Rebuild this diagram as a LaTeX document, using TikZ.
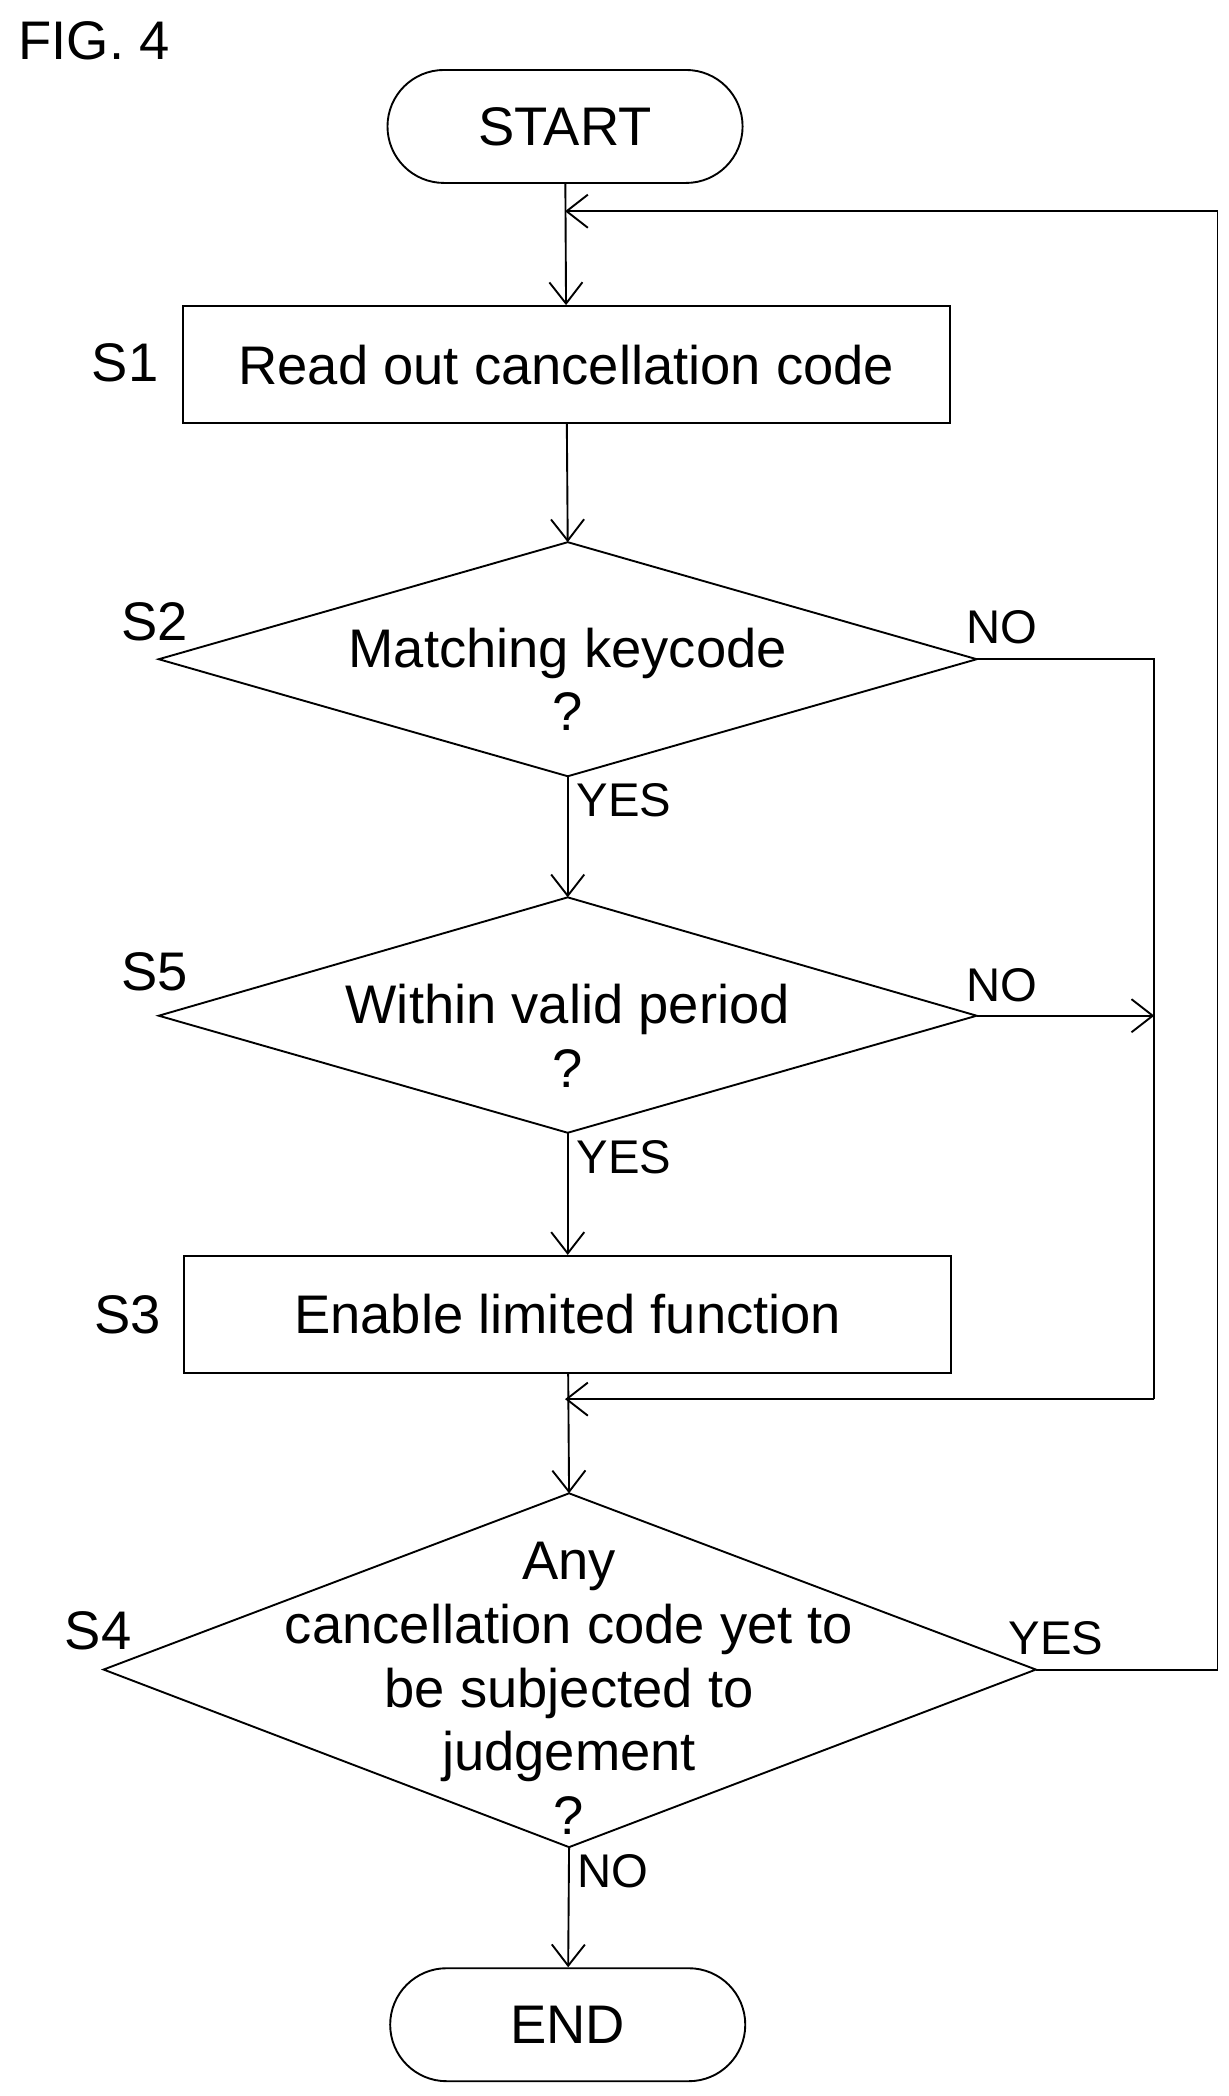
\documentclass[tikz,border=0pt]{standalone}
\usepackage{fontspec}
\setmainfont{Liberation Sans}
\usetikzlibrary{arrows.meta}
\begin{document}
\begin{tikzpicture}[x=0.02cm,y=-0.02cm,
  every node/.style={font=\fontsize{23}{27}\selectfont},
  proc/.style={draw,thick,minimum width=11.4cm,minimum height=1.74cm},
  term/.style={draw,thick,rounded corners=0.84cm,minimum width=5.28cm,minimum height=1.68cm},
  dtext/.style={align=center},
  flow/.style={thick,-{Straight Barb[length=9pt,width=14pt]}},
  lbl/.style={font=\fontsize{20}{24}\selectfont}]
  \useasboundingbox (0,0) rectangle (913,1558);

  \node at (70,30) {FIG. 4};

  %diamond corners
  \coordinate (s2n) at (422,403); \coordinate (s2s) at (422,577);
  \coordinate (s2w) at (118,490); \coordinate (s2e) at (726,490);
  \coordinate (s5n) at (422,667); \coordinate (s5s) at (422,842);
  \coordinate (s5w) at (118,755); \coordinate (s5e) at (726,755);
  \coordinate (s4n) at (423,1110); \coordinate (s4s) at (423,1373);
  \coordinate (s4w) at (77,1241); \coordinate (s4e) at (770,1241);

  %boxes
  \node[term] (start) at (420,94) {START};
  \node[proc] (s1) at (421,271) {Read out cancellation code};
  \draw[thick] (s2n) -- (s2e) -- (s2s) -- (s2w) -- cycle;
  \node[dtext] (s2) at (422,505) {Matching keycode\\?};
  \draw[thick] (s5n) -- (s5e) -- (s5s) -- (s5w) -- cycle;
  \node[dtext] (s5) at (422,770) {Within valid period\\?};
  \node[proc] (s3) at (422,977) {Enable limited function};
  \draw[thick] (s4n) -- (s4e) -- (s4s) -- (s4w) -- cycle;
  \node[dtext] (s4) at (423,1255)
     {Any\\cancellation code yet to\\be subjected to\\judgement\\?};
  \node[term] (end) at (422,1505) {END};

  %step labels
  \node (l1) at (93,270) {S1};
  \node (l2) at (115,462) {S2};
  \node (l5) at (115,722) {S5};
  \node (l3) at (95,977) {S3};
  \node (l4) at (73,1212) {S4};

  %helper points
  \coordinate (j1) at (420,157);
  \coordinate (j2) at (420,1040);
  \coordinate (r1) at (858,490);
  \coordinate (r2) at (858,755);
  \coordinate (r3) at (858,1040);
  \coordinate (q1) at (905,1241);
  \coordinate (q2) at (905,157);

  %connectors
  \draw[flow] (start) -- (s1);
  \draw[flow] (s1) -- (s2n);
  \draw[flow] (s2s) -- node[lbl,pos=0.2,right] {YES} (s5n);
  \draw[flow] (s5s) -- node[lbl,pos=0.2,right] {YES} (s3);
  \draw[flow] (s3) -- (s4n);
  \draw[flow] (s4s) -- node[lbl,pos=0.2,right] {NO} (end);
  \draw[thick] (s2e) -- (r1) -- (r3);
  \draw[flow] (r3) -- (j2);
  \draw[flow] (s5e) -- (r2);
  \draw[thick] (s4e) -- (q1) -- (q2);
  \draw[flow] (q2) -- (j1);
  \node[lbl] at (745,466) {NO};
  \node[lbl] at (745,732) {NO};
  \node[lbl] at (785,1218) {YES};
\end{tikzpicture}
\end{document}
